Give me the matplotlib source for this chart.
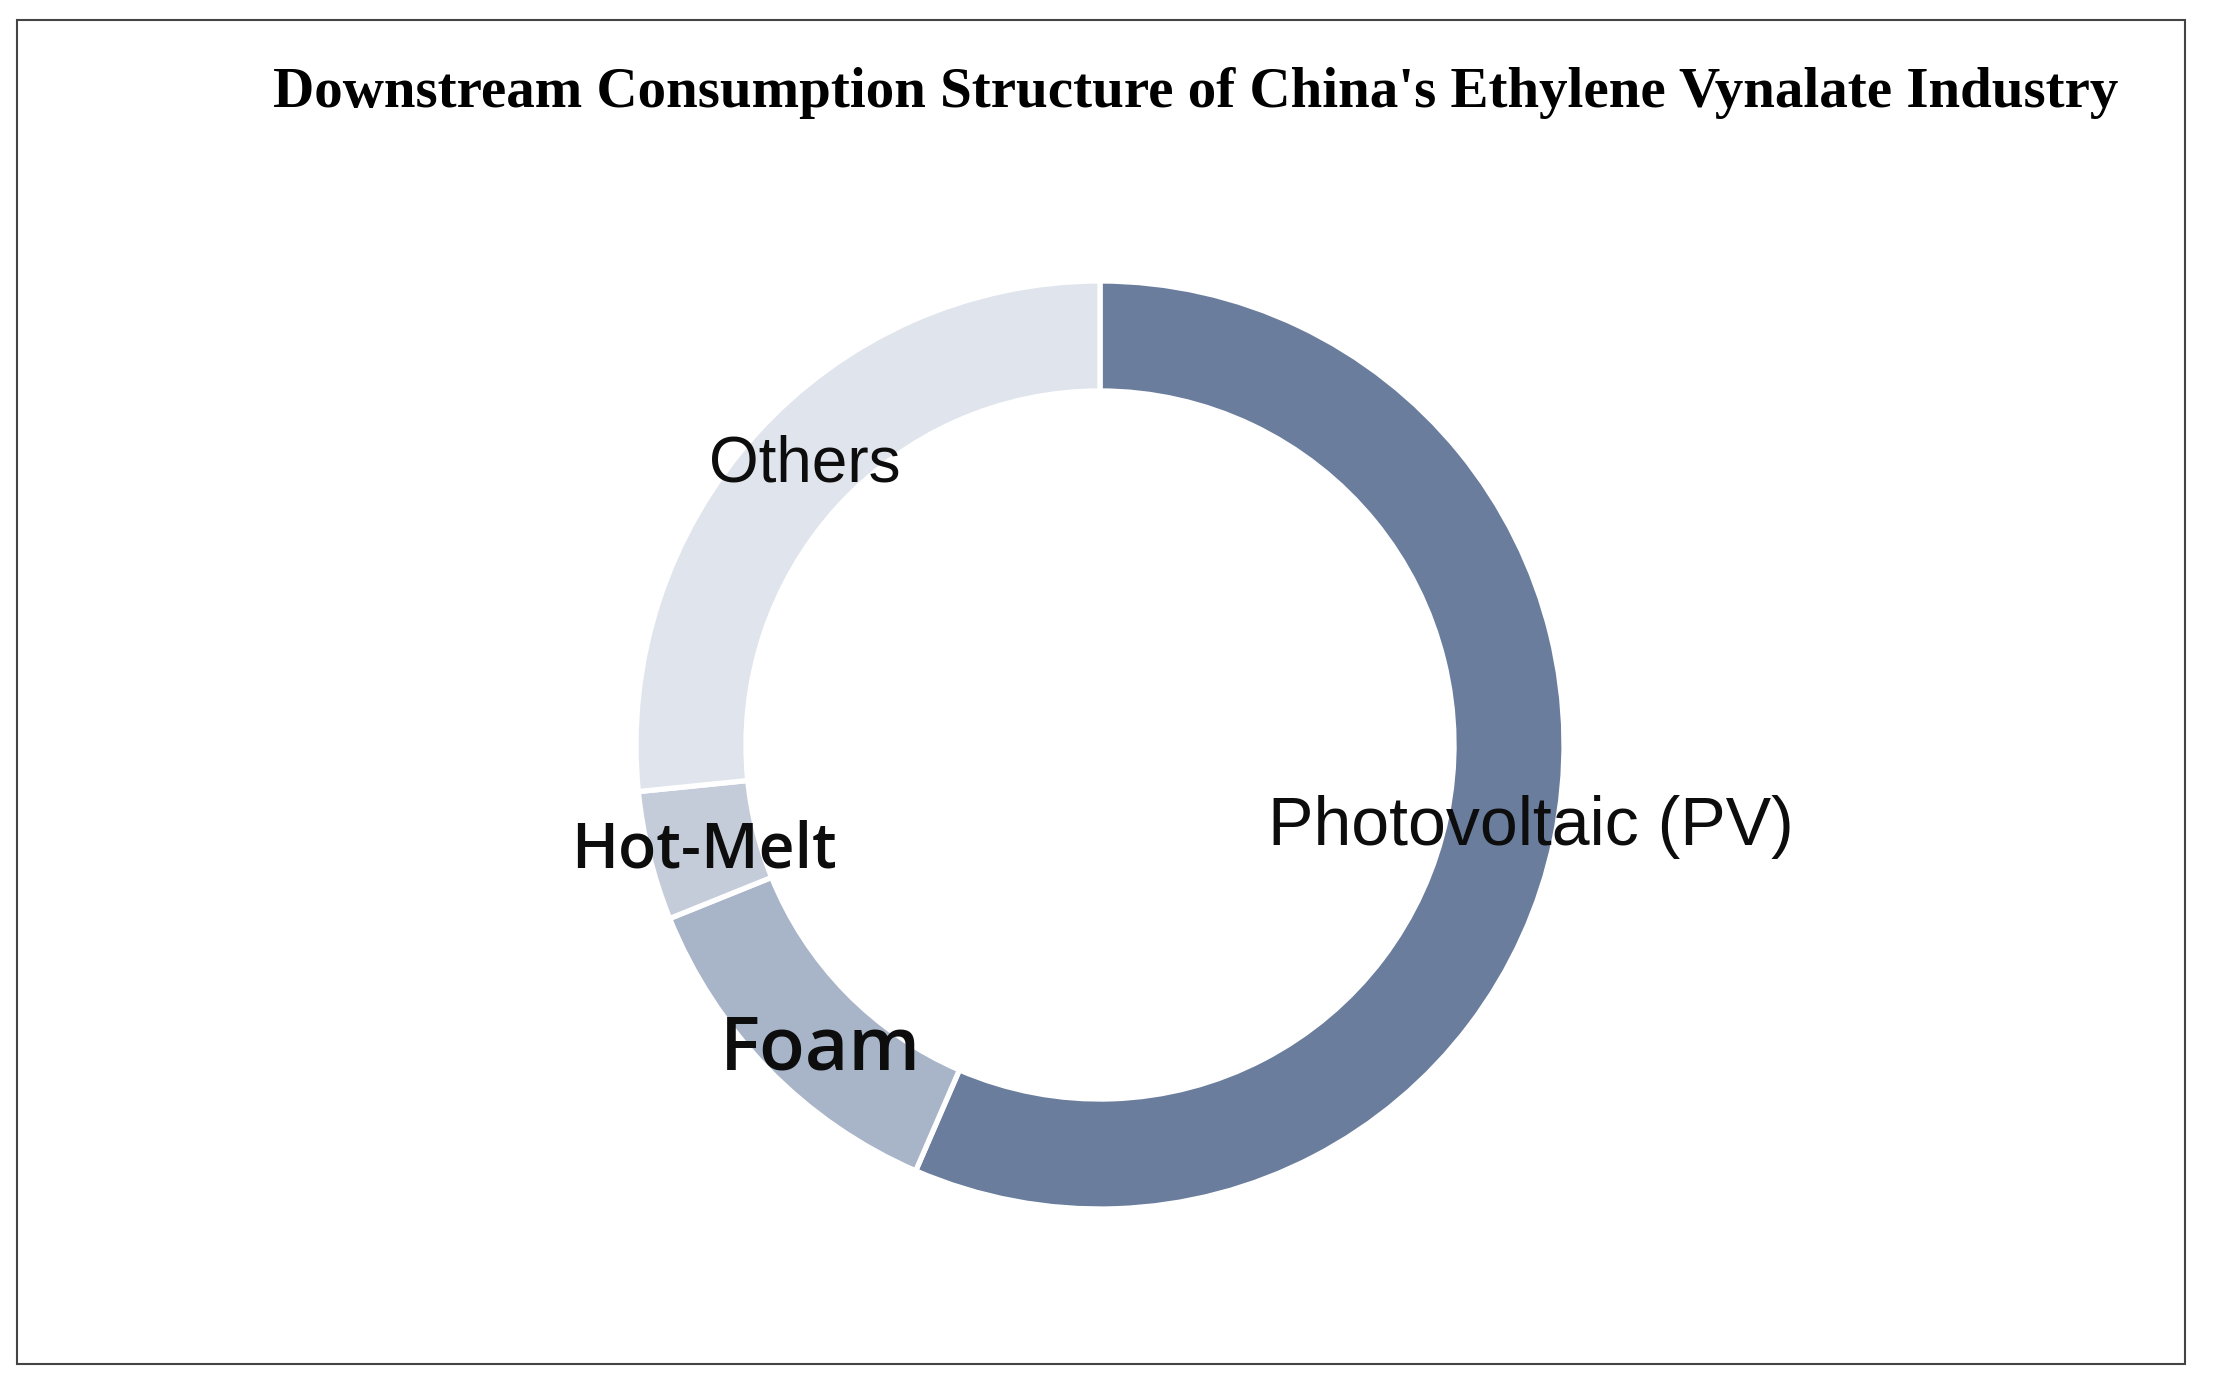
import matplotlib
matplotlib.use("Agg")
import matplotlib.pyplot as plt
from matplotlib.patches import Rectangle

# data (share of downstream consumption, %)
segments = ["Photovoltaic (PV)", "Foam", "Hot-Melt", "Others"]
shares = [56.5, 12.4, 4.5, 26.6]
colors = ["#6a7d9d", "#a8b4c7", "#c5ccd9", "#e0e4ec"]

title = "Downstream Consumption Structure of China's Ethylene Vynalate Industry"

W, H = 2216, 1388
fig = plt.figure(figsize=(W / 100, H / 100), dpi=100)
fig.patch.set_facecolor("white")

# ring centre at (1100, 745) px, outer radius ~464 px
cx, cy, R = 1100, 745, 464
side = 2.4 * R
ax = fig.add_axes([(cx - side / 2) / W, (H - cy - side / 2) / H, side / W, side / H])

wedges, _ = ax.pie(shares, colors=colors, startangle=90, counterclock=False,
                   radius=1.0,
                   wedgeprops=dict(width=0.237, edgecolor="white", linewidth=3.8))
ax.set_xlim(-1.2, 1.2)
ax.set_ylim(-1.2, 1.2)
ax.set_aspect("equal")
ax.axis("off")


def px(x, y):
    # pixel position in the picture -> data coordinates of the pie axes
    return (x - cx) / R, (cy - y) / R


# label positions (left edge / baseline, in picture pixels) and styles
label_pos = {
    "Photovoltaic (PV)": (1268, 845),
    "Foam": (720, 1070),
    "Hot-Melt": (571, 868),
    "Others": (709, 482),
}
label_style = {
    "Photovoltaic (PV)": dict(family="Liberation Sans", size=49),
    "Foam": dict(family="Open Sans", size=54, weight="semibold"),
    "Hot-Melt": dict(family="Open Sans", size=45, weight="semibold"),
    "Others": dict(family="Liberation Sans", size=46),
}
for name in segments:
    x, y = px(*label_pos[name])
    ax.text(x, y, name, ha="left", va="baseline", color="#0d0d0d",
            **label_style[name])

fig.text(1196 / W, 1 - 107 / H, title, ha="center", va="baseline",
         family="Liberation Serif", weight="bold", size=41, color="black")

fig.patches.append(Rectangle((17 / W, 1 - 1364 / H), (2185 - 17) / W, (1364 - 20) / H,
                             transform=fig.transFigure, fill=False,
                             edgecolor="#444444", linewidth=1.5))

fig.savefig("out.png", dpi=100)
